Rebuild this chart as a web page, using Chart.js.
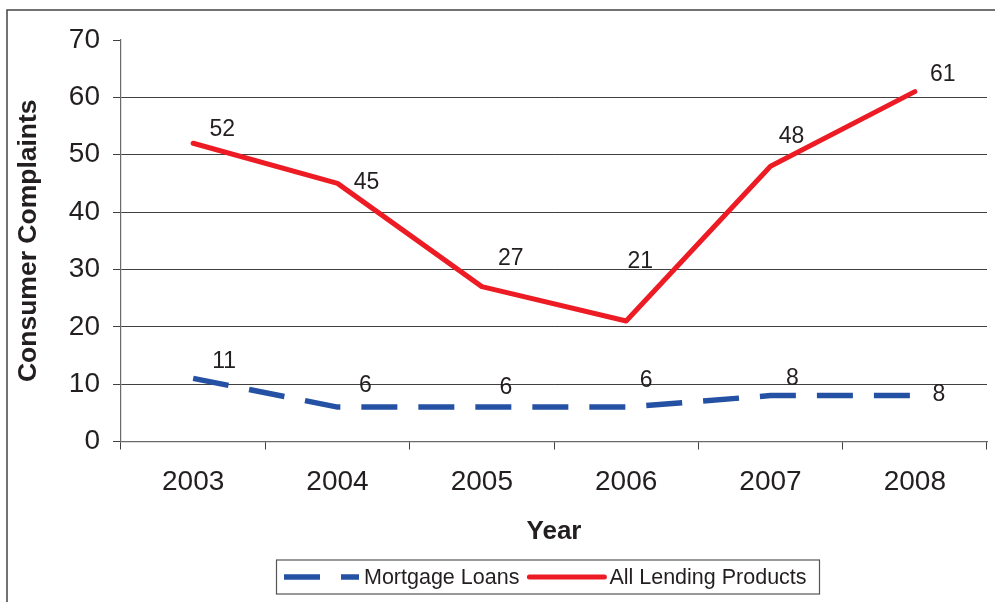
<!DOCTYPE html>
<html>
<head>
<meta charset="utf-8">
<title>Consumer Complaints</title>
<script src="https://cdn.jsdelivr.net/npm/chart.js@4/dist/chart.umd.min.js"></script>
<style>
    html, body { margin: 0; padding: 0; background: #ffffff; overflow: hidden; }
    canvas { display: block; }
</style>
</head>
<body>
<canvas id="complaints" width="995" height="602"></canvas>
<script>
const years = ['2003', '2004', '2005', '2006', '2007', '2008'];
const mortgageLoans = [11, 6, 6, 6, 8, 8];
const allLending = [52, 45, 27, 21, 48, 61];
const yMin = 0;
const yMax = 70;
const yStep = 10;

// where each value label sits relative to its point, [dx, dy]
const mortgageLabelShift = [[31, -17], [28, -21], [24, -19], [20, -26], [22, -17], [24, -1]];
const lendingLabelShift = [[29, -14], [29, -1], [29, -28], [14, -59], [21, -30], [28, -17]];

const textColor = '#231f20';
const fontFamily = "'Liberation Sans', Arial, Helvetica, sans-serif";

Chart.defaults.font.family = fontFamily;
Chart.defaults.color = textColor;

// thin frame round the whole chart, only the top and left edges are on screen
const outerFrame = {
    id: 'outerFrame',
    beforeDraw(chart) {
        const ctx = chart.ctx;
        ctx.save();
        ctx.strokeStyle = '#444444';
        ctx.lineWidth = 1.5;
        ctx.strokeRect(7, 10, chart.width + 20, chart.height + 20);
        ctx.restore();
    }
};

// value labels next to every point
const valueLabels = {
    id: 'valueLabels',
    afterDatasetsDraw(chart) {
        const ctx = chart.ctx;
        ctx.save();
        ctx.font = '23px ' + fontFamily;
        ctx.fillStyle = textColor;
        ctx.textAlign = 'center';
        ctx.textBaseline = 'middle';
        chart.data.datasets.forEach((ds, i) => {
            const meta = chart.getDatasetMeta(i);
            meta.data.forEach((pt, j) => {
                const shift = ds.labelShift[j];
                ctx.fillText(String(ds.data[j]), pt.x + shift[0], pt.y + shift[1]);
            });
        });
        ctx.restore();
    }
};

// boxed legend under the x axis, line samples use each dataset's own stroke
const boxedLegend = {
    id: 'boxedLegend',
    afterDraw(chart, args, opts) {
        const ctx = chart.ctx;
        const sample = opts.sampleWidth;
        ctx.save();
        ctx.font = opts.fontSize + 'px ' + fontFamily;
        const items = chart.data.datasets.map((ds) => ({ ds, w: ctx.measureText(ds.label).width }));
        let total = opts.padLeft + opts.padRight;
        items.forEach((it, i) => {
            total += sample + opts.textGap + it.w + (i > 0 ? opts.itemGap : 0);
        });
        const area = chart.chartArea;
        const left = Math.round((area.left + area.right) / 2 + opts.shiftX - total / 2);
        const midY = opts.centerY;
        ctx.strokeStyle = '#555555';
        ctx.lineWidth = 1.2;
        ctx.strokeRect(left + 0.5, midY - opts.boxHeight / 2, Math.round(total), opts.boxHeight);

        let x = left + opts.padLeft;
        items.forEach((it, i) => {
            if (i > 0) x += opts.itemGap;
            const ds = it.ds;
            ctx.save();
            ctx.strokeStyle = ds.borderColor;
            ctx.lineWidth = ds.borderWidth;
            ctx.lineCap = ds.borderCapStyle || 'butt';
            ctx.setLineDash(ds.borderDash || []);
            ctx.beginPath();
            ctx.moveTo(x, midY);
            ctx.lineTo(x + sample, midY);
            ctx.stroke();
            ctx.restore();
            x += sample + opts.textGap;
            ctx.fillStyle = textColor;
            ctx.textAlign = 'left';
            ctx.textBaseline = 'middle';
            ctx.fillText(ds.label, x, midY + 1);
            x += it.w;
        });
        ctx.restore();
    }
};

const chart = new Chart(document.getElementById('complaints'), {
    type: 'line',
    data: {
        labels: years,
        datasets: [
            {
                label: 'Mortgage Loans',
                data: mortgageLoans,
                labelShift: mortgageLabelShift,
                borderColor: '#2451a4',
                backgroundColor: '#2451a4',
                borderWidth: 5.5,
                borderDash: [36, 21],
                borderCapStyle: 'butt',
                pointRadius: 0,
                tension: 0,
                fill: false
            },
            {
                label: 'All Lending Products',
                data: allLending,
                labelShift: lendingLabelShift,
                borderColor: '#ed1c24',
                backgroundColor: '#ed1c24',
                borderWidth: 5,
                borderCapStyle: 'round',
                borderJoinStyle: 'round',
                pointRadius: 0,
                tension: 0,
                fill: false
            }
        ]
    },
    options: {
        responsive: false,
        animation: false,
        layout: {
            padding: { left: 10, top: 40, right: 8, bottom: 46 }
        },
        scales: {
            x: {
                offset: true,
                grid: {
                    offset: true,
                    drawOnChartArea: false,
                    drawTicks: true,
                    tickLength: 8,
                    tickColor: '#404040'
                },
                border: { color: '#6a6a6a', width: 1.2 },
                ticks: {
                    padding: 16,
                    font: { size: 28 },
                    color: textColor
                },
                title: {
                    display: true,
                    text: 'Year',
                    font: { size: 26, weight: 'bold' },
                    color: textColor,
                    padding: { top: 0, bottom: 9 }
                },
                afterFit(scale) {
                    scale.height = 114.5;
                }
            },
            y: {
                min: yMin,
                max: yMax,
                grid: {
                    color: (ctx) => (ctx.tick && ctx.tick.value === yMax ? 'rgba(0,0,0,0)' : '#404040'),
                    tickColor: '#404040',
                    tickLength: 8,
                    lineWidth: 1
                },
                border: { color: '#6a6a6a', width: 1.2 },
                ticks: {
                    stepSize: yStep,
                    padding: 13,
                    font: { size: 28 },
                    color: textColor
                },
                title: {
                    display: true,
                    text: 'Consumer Complaints',
                    font: { size: 26.5, weight: 'bold' },
                    color: textColor,
                    padding: { top: 3, bottom: 0 }
                },
                afterFit(scale) {
                    scale.width = 111;
                }
            }
        },
        plugins: {
            legend: { display: false },
            tooltip: { enabled: false },
            boxedLegend: {
                fontSize: 21.5,
                sampleWidth: 75,
                textGap: 5,
                itemGap: 10,
                padLeft: 8,
                padRight: 12,
                boxHeight: 34,
                centerY: 577,
                shiftX: -6.5
            }
        }
    },
    plugins: [outerFrame, valueLabels, boxedLegend]
});
</script>
</body>
</html>
